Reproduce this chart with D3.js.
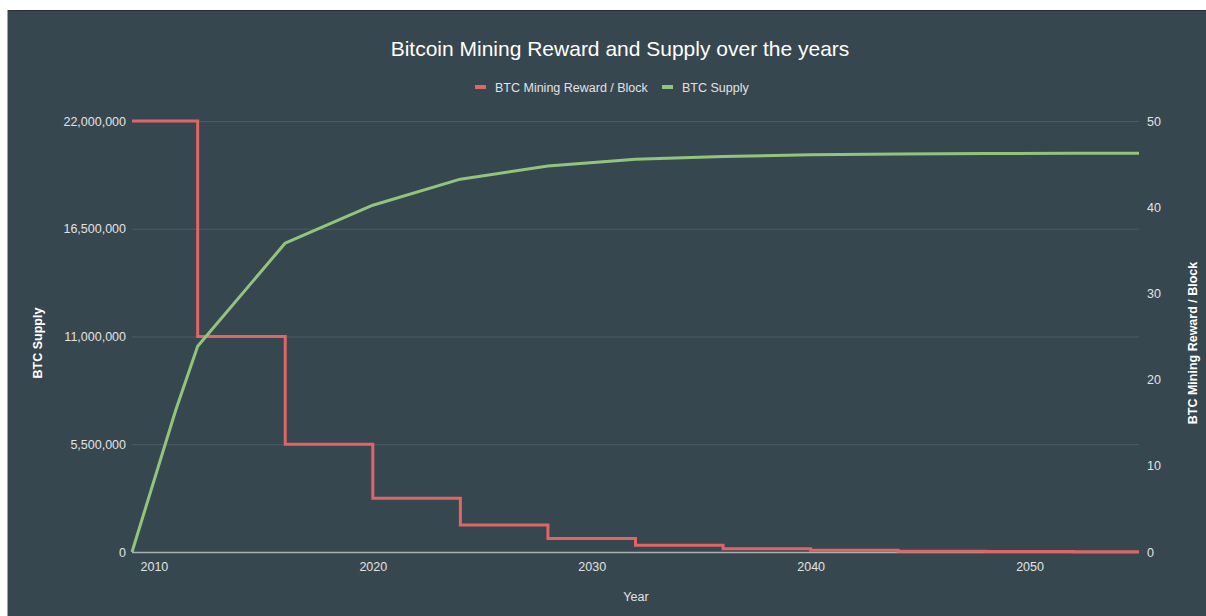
<!DOCTYPE html>
<html>
<head>
<meta charset="utf-8">
<script src="https://cdn.jsdelivr.net/npm/d3@7"></script>
<style>
  body { margin: 0; background: #ffffff; }
  svg { display: block; font-family: "Liberation Sans", Arial, sans-serif; }
</style>
</head>
<body>
<svg id="chart" width="1206" height="616"></svg>
<script>
var w = 1206;
var h = 616;

// halving years and reward per block (step line)
var rewardYears = [2009, 2012, 2016, 2020, 2024, 2028, 2032, 2036, 2040, 2044, 2048, 2052, 2055];
var rewardValues = [50, 25, 12.5, 6.25, 3.125, 1.5625, 0.78125, 0.390625, 0.1953125, 0.09765625, 0.048828125, 0.0244140625, 0.0244140625];

// btc supply
var supplyYears = [2009, 2011, 2012, 2016, 2020, 2024, 2028, 2032, 2036, 2040, 2044, 2048, 2052, 2055];
var supplyValues = [0, 7250000, 10500000, 15770000, 17700000, 19030000, 19700000, 20050000, 20190000, 20280000, 20320000, 20340000, 20350000, 20350000];

var yearTicks = [2010, 2020, 2030, 2040, 2050];
var supplyTicks = [0, 5500000, 11000000, 16500000, 22000000];
var rewardTicks = [0, 10, 20, 30, 40, 50];

var seriesNames = ["BTC Mining Reward / Block", "BTC Supply"];
var red = "#e06666", green = "#93c47d";
var tickCol = "#e2e2e2";

// plot box
var pLeft = 132, pRight = 1139, pTop = 121, pBottom = 552;

var svg = d3.select("#chart");

// panel
svg.append("rect").attr("x", 7).attr("y", 10).attr("width", w - 7).attr("height", h - 10)
  .attr("fill", "#37474f");
svg.append("line").attr("x1", 7).attr("x2", w).attr("y1", 10.5).attr("y2", 10.5)
  .attr("stroke", "#263238").attr("stroke-width", 1);
svg.append("line").attr("x1", 7.5).attr("x2", 7.5).attr("y1", 10).attr("y2", h)
  .attr("stroke", "#9aa4a8").attr("stroke-width", 1);

var x = d3.scaleLinear().domain([2009, 2055]).range([pLeft, pRight]);
var ySupply = d3.scaleLinear().domain([0, 22000000]).range([pBottom, pTop]);
var yReward = d3.scaleLinear().domain([0, 50]).range([pBottom, pTop]);

// gridlines
svg.append("g").selectAll("line")
  .data(supplyTicks.filter(function(d){ return d > 0; }))
  .enter().append("line")
  .attr("x1", pLeft).attr("x2", pRight)
  .attr("y1", function(d){ return ySupply(d) + 0.5; })
  .attr("y2", function(d){ return ySupply(d) + 0.5; })
  .attr("stroke", "#4e5c63").attr("stroke-width", 1);

// left axis
var leftAxis = svg.append("g")
  .attr("transform", "translate(" + (pLeft - 6) + ",0)")
  .call(d3.axisLeft(ySupply).tickValues(supplyTicks).tickFormat(d3.format(",")).tickSize(0).tickPadding(0));
leftAxis.select(".domain").remove();
leftAxis.selectAll("text").attr("fill", tickCol).style("font-size", "12.5px");

// right axis
var rightAxis = svg.append("g")
  .attr("transform", "translate(" + (pRight + 8) + ",0)")
  .call(d3.axisRight(yReward).tickValues(rewardTicks).tickSize(0).tickPadding(0));
rightAxis.select(".domain").remove();
rightAxis.selectAll("text").attr("fill", tickCol).style("font-size", "12.5px");

// bottom axis
var bottomAxis = svg.append("g")
  .attr("transform", "translate(0," + pBottom + ")")
  .call(d3.axisBottom(x).tickValues(yearTicks).tickFormat(d3.format("d")).tickSize(0).tickPadding(10));
bottomAxis.select(".domain").remove();
bottomAxis.selectAll("text").attr("fill", tickCol).style("font-size", "12.5px");

// baseline
svg.append("line").attr("x1", pLeft).attr("x2", pRight)
  .attr("y1", pBottom + 0.5).attr("y2", pBottom + 0.5)
  .attr("stroke", "#a8b0b3").attr("stroke-width", 1.5);

// lines
var rewardLine = d3.line()
  .x(function(d, i){ return x(rewardYears[i]); })
  .y(function(d){ return yReward(d); })
  .curve(d3.curveStepAfter);

var supplyLine = d3.line()
  .x(function(d, i){ return x(supplyYears[i]); })
  .y(function(d){ return ySupply(d); });

svg.append("path").datum(rewardValues)
  .attr("d", rewardLine)
  .attr("fill", "none").attr("stroke", red).attr("stroke-width", 3);

svg.append("path").datum(supplyValues)
  .attr("d", supplyLine)
  .attr("fill", "none").attr("stroke", green).attr("stroke-width", 3)
  .attr("stroke-linejoin", "round");

// title
svg.append("text").attr("x", 620).attr("y", 56)
  .attr("text-anchor", "middle").attr("fill", "#ffffff")
  .style("font-size", "21px")
  .text("Bitcoin Mining Reward and Supply over the years");

// legend
var legend = svg.append("g");
var legendX = [475, 662];
var legendCol = [red, green];
seriesNames.forEach(function(name, i){
  legend.append("rect").attr("x", legendX[i]).attr("y", 85).attr("width", 11).attr("height", 4)
    .attr("fill", legendCol[i]);
  legend.append("text").attr("x", legendX[i] + 20).attr("y", 91.5)
    .attr("fill", tickCol).style("font-size", "12.5px")
    .text(name);
});

// axis titles
svg.append("text").attr("transform", "translate(42,343) rotate(-90)")
  .attr("text-anchor", "middle").attr("fill", "#ffffff")
  .style("font-size", "12.5px").style("font-weight", "bold")
  .text("BTC Supply");

svg.append("text").attr("transform", "translate(1197,343) rotate(-90)")
  .attr("text-anchor", "middle").attr("fill", "#ffffff")
  .style("font-size", "12.5px").style("font-weight", "bold")
  .text("BTC Mining Reward / Block");

svg.append("text").attr("x", 636).attr("y", 601)
  .attr("text-anchor", "middle").attr("fill", tickCol)
  .style("font-size", "12.5px")
  .text("Year");
</script>
</body>
</html>
